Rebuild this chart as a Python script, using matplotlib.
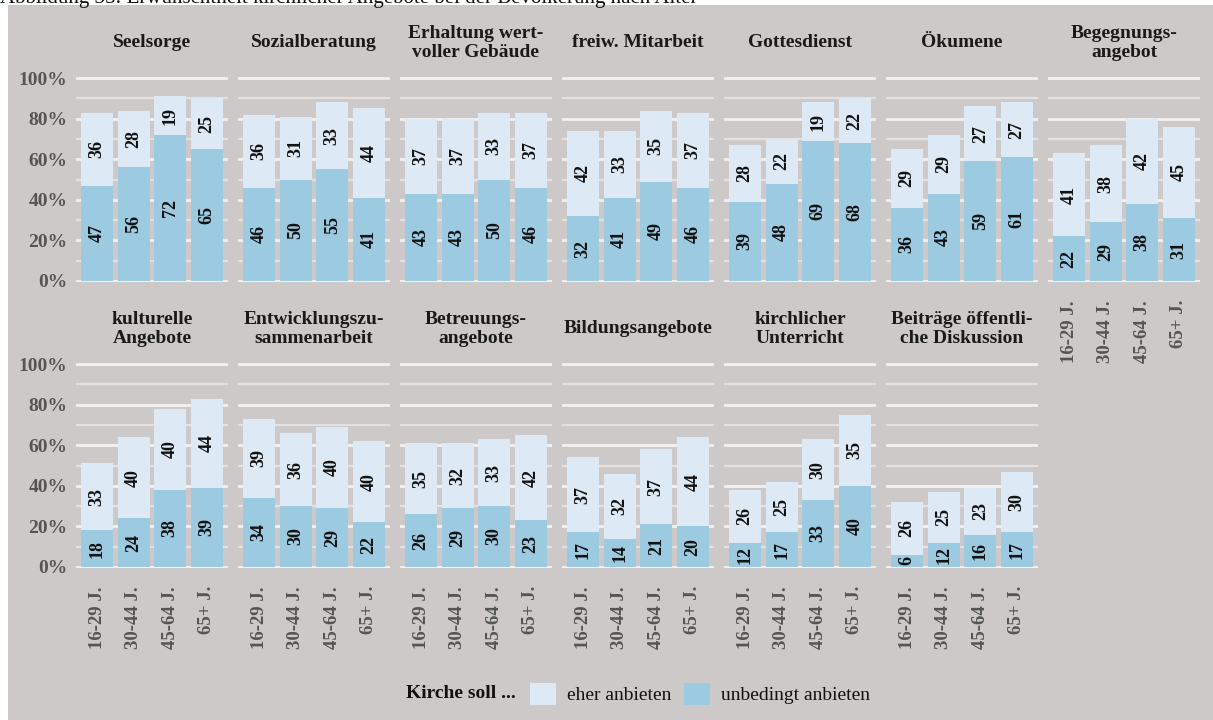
import matplotlib
matplotlib.use("Agg")
import matplotlib.pyplot as plt
from matplotlib.patches import Rectangle, Patch
from matplotlib.ticker import MultipleLocator

plt.rcParams["font.family"] = ["Liberation Serif", "DejaVu Serif"]

age_groups = ["16-29 J.", "30-44 J.", "45-64 J.", "65+ J."]

titles_top = ["Seelsorge", "Sozialberatung", "Erhaltung wert-\nvoller Gebäude",
              "freiw. Mitarbeit", "Gottesdienst", "Ökumene", "Begegnungs-\nangebot"]
unbedingt_top = [[47, 56, 72, 65], [46, 50, 55, 41], [43, 43, 50, 46], [32, 41, 49, 46],
                 [39, 48, 69, 68], [36, 43, 59, 61], [22, 29, 38, 31]]
eher_top = [[36, 28, 19, 25], [36, 31, 33, 44], [37, 37, 33, 37], [42, 33, 35, 37],
            [28, 22, 19, 22], [29, 29, 27, 27], [41, 38, 42, 45]]

titles_bottom = ["kulturelle\nAngebote", "Entwicklungszu-\nsammenarbeit", "Betreuungs-\nangebote",
                 "Bildungsangebote", "kirchlicher\nUnterricht", "Beiträge öffentli-\nche Diskussion"]
unbedingt_bottom = [[18, 24, 38, 39], [34, 30, 29, 22], [26, 29, 30, 23],
                    [17, 14, 21, 20], [12, 17, 33, 40], [6, 12, 16, 17]]
eher_bottom = [[33, 40, 40, 44], [39, 36, 40, 40], [35, 32, 33, 42],
               [37, 32, 37, 44], [26, 25, 30, 35], [26, 25, 23, 30]]

bg = "#cdc9c8"
light = "#ddeaf6"
dark = "#9ccae1"
tick_grey = "#555555"

W, H = 1213, 720
fig = plt.figure(figsize=(W / 100, H / 100), dpi=100, facecolor="white")
fig.patches.append(Rectangle((8 / W, 0), 1 - 8 / W, 1 - 5 / H, transform=fig.transFigure,
                             facecolor=bg, edgecolor="none", zorder=-10))
fig.text(0, 1 - 3 / H, "Abbildung 35: Erwünschtheit kirchlicher Angebote bei der Bevölkerung nach Alter",
         ha="left", va="baseline", fontsize=15, color="#111111")


def px_axes(left, top, bottom, width=152):
    return fig.add_axes([left / W, 1 - bottom / H, width / W, (bottom - top) / H])


def draw_panel(ax, title, unbedingt, eher, ylabels, xlabels):
    ax.set_facecolor("none")
    x = range(len(age_groups))
    b1 = ax.bar(x, unbedingt, width=0.88, color=dark, zorder=3)
    b2 = ax.bar(x, eher, bottom=unbedingt, width=0.88, color=light, zorder=3)
    for cont in (b1, b2):
        ax.bar_label(cont, label_type="center", rotation=90, fontsize=13,
                     fontweight="bold", color="#111111", zorder=4)
    ax.set_xlim(-0.58, 3.58)
    ax.set_ylim(-0.5, 101)
    ax.yaxis.set_major_locator(MultipleLocator(20))
    ax.yaxis.set_minor_locator(MultipleLocator(10))
    ax.grid(axis="y", which="major", color="#f3f2f1", lw=2, zorder=0)
    ax.grid(axis="y", which="minor", color="#e4e1e0", lw=1.6, zorder=0)
    ax.tick_params(which="both", length=0)
    for s in ax.spines.values():
        s.set_visible(False)
    if ylabels:
        ax.set_yticks(range(0, 101, 20))
        ax.set_yticklabels([f"{v}%" for v in range(0, 101, 20)], fontsize=14,
                           fontweight="bold", color=tick_grey)
        ax.tick_params(axis="y", pad=6)
    else:
        ax.set_yticklabels([])
    ax.set_xticks(list(x))
    if xlabels:
        ax.set_xticklabels(age_groups, rotation=90, fontsize=13.5, fontweight="bold",
                           color=tick_grey, va="top")
        ax.tick_params(axis="x", pad=13)
    else:
        ax.set_xticklabels([])
    ax.annotate(title, xy=(0.5, 1), xycoords="axes fraction", xytext=(0, 24),
                textcoords="offset points", ha="center", va="center",
                fontsize=14, fontweight="bold", color="#1a1a1a", linespacing=1.15)


for i, (t, u, e) in enumerate(zip(titles_top, unbedingt_top, eher_top)):
    ax = px_axes(76 + 162 * i, 76, 282)
    draw_panel(ax, t, u, e, ylabels=(i == 0), xlabels=(i == len(titles_top) - 1))

for i, (t, u, e) in enumerate(zip(titles_bottom, unbedingt_bottom, eher_bottom)):
    ax = px_axes(76 + 162 * i, 362, 568)
    draw_panel(ax, t, u, e, ylabels=(i == 0), xlabels=True)

# legend row
fig.text(516 / W, 1 - 694 / H, "Kirche soll ...", ha="right", va="center",
         fontsize=14, fontweight="bold", color="#111111")
handles = [Patch(facecolor=light, edgecolor="none"), Patch(facecolor=dark, edgecolor="none")]
fig.legend(handles, ["eher anbieten", "unbedingt anbieten"], ncol=2, loc="center",
           bbox_to_anchor=(700 / W, 1 - 694 / H), frameon=False, fontsize=14,
           handlelength=1.35, handleheight=1.35, handletextpad=0.6, columnspacing=0.6,
           borderpad=0, labelcolor="#111111")

fig.savefig("out.png", dpi=100, facecolor=fig.get_facecolor())
